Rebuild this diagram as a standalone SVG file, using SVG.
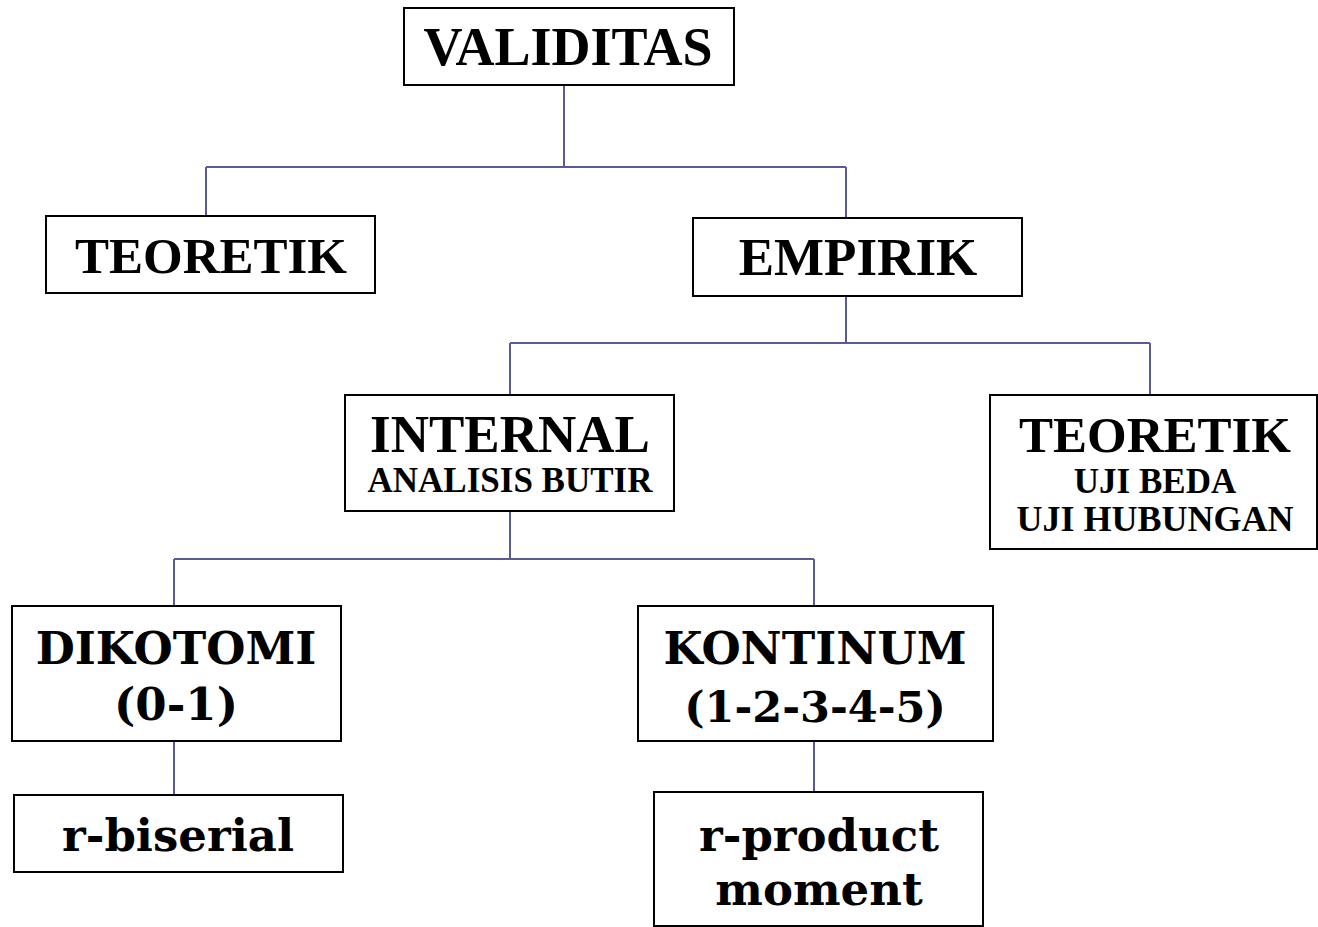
<svg xmlns="http://www.w3.org/2000/svg" width="1318" height="927" viewBox="0 0 1318 927">
<style>
.box{fill:#fff;stroke:#000;stroke-width:2}
.t{font-family:"Liberation Serif","Times New Roman",serif;font-weight:bold;fill:#000;text-anchor:middle}
.g{font-family:"DejaVu Serif",Georgia,serif;font-weight:bold;fill:#000;text-anchor:middle}
.c{stroke:#5a5a96;stroke-width:2;fill:none}
</style>
<rect width="1318" height="927" fill="#fff"/>
<g id="connectors">
<path class="c" d="M564,86V167M206,167H846M206,167V216M846,167V218"/>
<path class="c" d="M846,296V343M510,343H1150M510,343V395M1150,343V395"/>
<path class="c" d="M510,511V559M174,559H814M174,559V606M814,559V606"/>
<path class="c" d="M174,741V795M814,741V792"/>
</g>
<g id="validitas"><rect class="box" x="404" y="8" width="330" height="77"/><text class="t" x="568" y="65" font-size="54">VALIDITAS</text></g>
<g id="teoretik1"><rect class="box" x="46" y="216" width="329" height="77"/><text class="t" x="211" y="273" font-size="51">TEORETIK</text></g>
<g id="empirik"><rect class="box" x="693" y="218" width="329" height="78"/><text class="t" x="858" y="275" font-size="53">EMPIRIK</text></g>
<g id="internal"><rect class="box" x="345" y="395" width="329" height="116"/><text class="t" x="510" y="452" font-size="53">INTERNAL</text><text class="t" x="510" y="492" font-size="35">ANALISIS BUTIR</text></g>
<g id="teoretik2"><rect class="box" x="990" y="395" width="327" height="154"/><text class="t" x="1155" y="452" font-size="51">TEORETIK</text><text class="t" x="1155" y="493" font-size="35">UJI BEDA</text><text class="t" x="1155" y="531" font-size="36">UJI HUBUNGAN</text></g>
<g id="dikotomi"><rect class="box" x="12" y="606" width="329" height="135"/><text class="g" x="176" y="664" font-size="45">DIKOTOMI</text><text class="g" x="176" y="720" font-size="45">(0-1)</text></g>
<g id="kontinum"><rect class="box" x="638" y="606" width="355" height="135"/><text class="g" x="815" y="664" font-size="45">KONTINUM</text><text class="g" x="815" y="722" font-size="43">(1-2-3-4-5)</text></g>
<g id="rbiserial"><rect class="box" x="14" y="795" width="329" height="77"/><text class="g" x="178" y="851" font-size="45">r-biserial</text></g>
<g id="rproduct"><rect class="box" x="654" y="792" width="329" height="134"/><text class="g" x="819" y="851" font-size="45">r-product</text><text class="g" x="819" y="905" font-size="45">moment</text></g>
</svg>
